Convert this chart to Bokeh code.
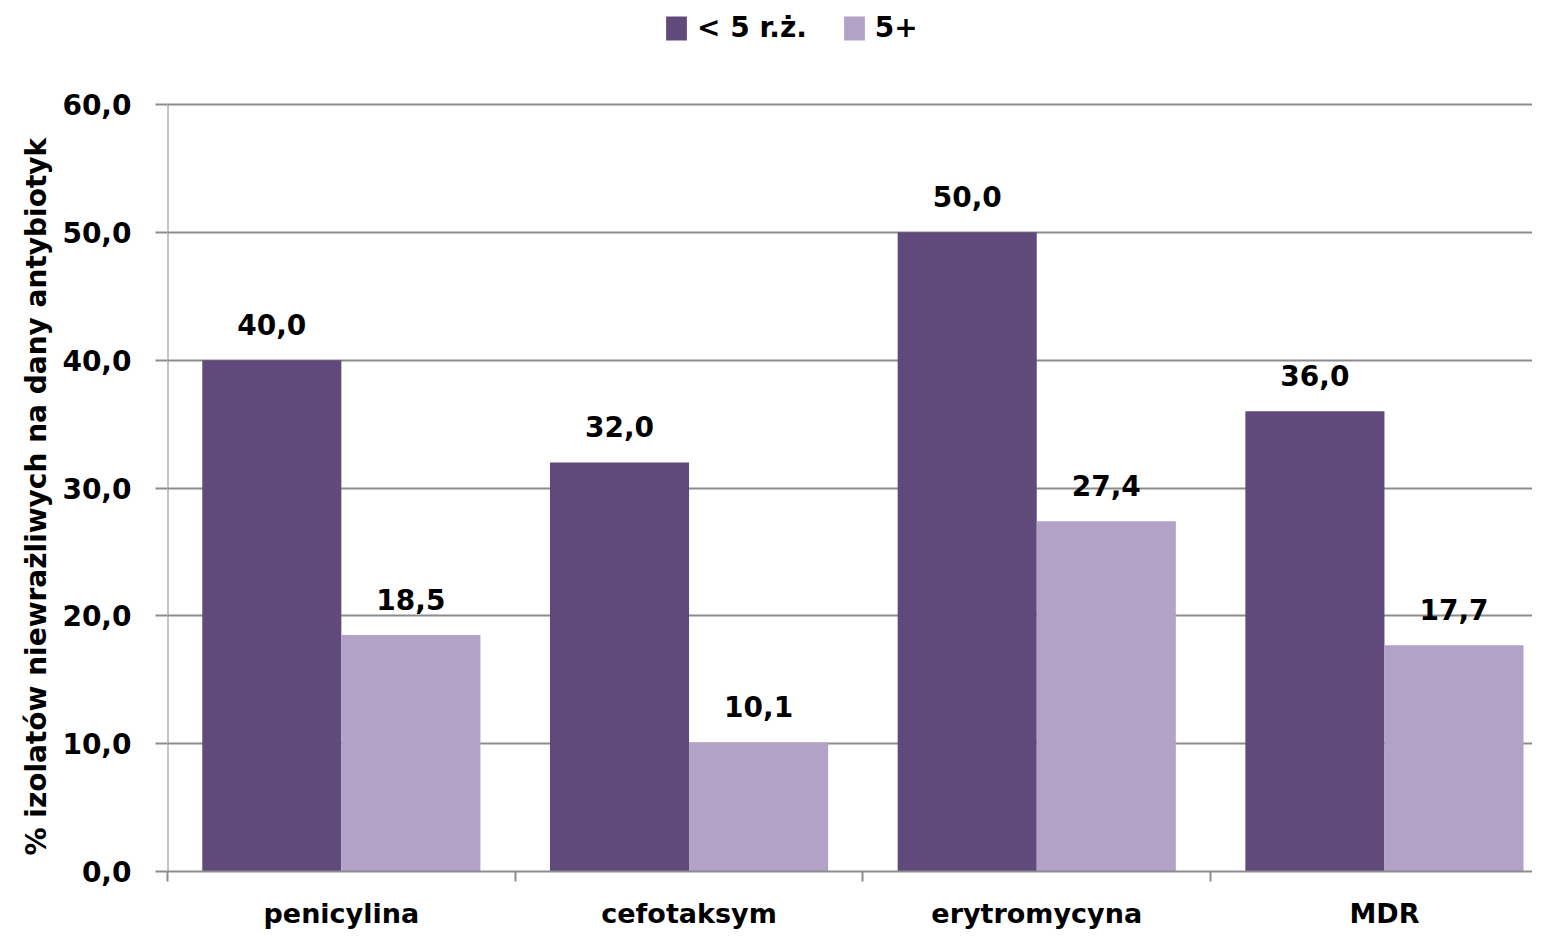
from bokeh.plotting import figure
from bokeh.models import ColumnDataSource, Range1d, FixedTicker, Legend, LegendItem, Title
from bokeh.core.properties import value
from bokeh.embed import file_html
from bokeh.resources import INLINE

categories = ["penicylina", "cefotaksym", "erytromycyna", "MDR"]
under5 = [40.0, 32.0, 50.0, 36.0]
over5 = [18.5, 10.1, 27.4, 17.7]
series_names = ["< 5 r.ż.", "5+"]
y_ticks = [0, 10, 20, 30, 40, 50, 60]
y_title = "% izolatów niewrażliwych na dany antybiotyk"

DARK = "#604A7B"
LIGHT = "#B2A2C7"
GRAY = "#8C8C8C"
FONT = "DejaVu Sans"
FS = "28px"

W, H = 1532, 932
LEFT, BOTTOM = 167, 61
TOP_OF_AXIS = 104          # pixel row of the top tick (60,0)
CAT_W = 347.7              # pixels per category

def fmt(v):
    return f"{v:.1f}".replace(".", ",")

frame_h = H - BOTTOM
y_max = y_ticks[-1] * frame_h / (frame_h - TOP_OF_AXIS)

idx = list(range(len(categories)))
src_a = ColumnDataSource(dict(x=[i + 0.3 for i in idx], top=under5, lab=[fmt(v) for v in under5]))
src_b = ColumnDataSource(dict(x=[i + 0.7 for i in idx], top=over5, lab=[fmt(v) for v in over5]))

p = figure(width=W, height=H, output_backend="svg", toolbar_location=None,
           x_range=Range1d(0, (W - LEFT) / CAT_W), y_range=Range1d(0, y_max),
           min_border_left=LEFT, min_border_right=0, min_border_top=0, min_border_bottom=BOTTOM)
p.outline_line_color = None
p.background_fill_color = "white"
p.border_fill_color = "white"

p.xgrid.grid_line_color = None
p.ygrid.ticker = FixedTicker(ticks=y_ticks)
p.ygrid.grid_line_color = GRAY
p.ygrid.grid_line_width = 2

# y axis line only from 0 to the top tick
p.segment(x0=[0], y0=[y_ticks[0]], x1=[0], y1=[y_ticks[-1]], line_color=GRAY, line_width=2)

ra = p.vbar(x="x", top="top", width=0.4, source=src_a, fill_color=DARK, line_color=None)
rb = p.vbar(x="x", top="top", width=0.4, source=src_b, fill_color=LIGHT, line_color=None)

for s in (src_a, src_b):
    p.text(x="x", y="top", text="lab", source=s, text_align="center", text_baseline="alphabetic",
           y_offset=-36, text_font=value(FONT), text_font_style="bold", text_font_size=FS,
           text_color="black")

# y axis
p.yaxis.ticker = FixedTicker(ticks=y_ticks)
p.yaxis.major_label_overrides = {t: fmt(t) for t in y_ticks}
p.yaxis.major_label_text_font = FONT
p.yaxis.major_label_text_font_style = "bold"
p.yaxis.major_label_text_font_size = FS
p.yaxis.major_label_text_color = "black"
p.yaxis.major_label_standoff = 24
p.yaxis.major_tick_out = 12
p.yaxis.major_tick_in = 0
p.yaxis.minor_tick_line_color = None
p.yaxis.axis_line_color = None
p.yaxis.major_tick_line_color = GRAY
p.yaxis.major_tick_line_width = 2

p.add_layout(Title(text=y_title, align="left", offset=16, text_font=FONT, text_font_style="bold",
                   text_font_size=FS, text_color="black", standoff=14), "left")

# x axis: labels at category centers, ticks at category boundaries
p.xaxis.ticker = FixedTicker(ticks=[i + 0.5 for i in idx], minor_ticks=[i for i in range(len(categories) + 1)])
p.xaxis.major_label_overrides = {i + 0.5: c for i, c in zip(idx, categories)}
p.xaxis.major_label_text_font = FONT
p.xaxis.major_label_text_font_style = "bold"
p.xaxis.major_label_text_font_size = "27px"
p.xaxis.major_label_text_color = "black"
p.xaxis.major_label_standoff = 16
p.xaxis.major_tick_line_color = None
p.xaxis.major_tick_out = 0
p.xaxis.major_tick_in = 0
p.xaxis.minor_tick_out = 10
p.xaxis.minor_tick_in = 0
p.xaxis.minor_tick_line_color = GRAY
p.xaxis.minor_tick_line_width = 2
p.xaxis.axis_line_color = GRAY
p.xaxis.axis_line_width = 2

legend = Legend(items=[LegendItem(label=series_names[0], renderers=[ra]),
                       LegendItem(label=series_names[1], renderers=[rb])],
                location=(663 - LEFT, frame_h - 44), orientation="horizontal",
                glyph_width=26, glyph_height=30, label_standoff=8, spacing=34,
                padding=0, margin=0, border_line_color=None, background_fill_alpha=0,
                label_text_font=FONT, label_text_font_style="bold", label_text_font_size=FS,
                label_text_color="black", label_height=30)
p.add_layout(legend, "center")

open("out.html", "w").write(file_html(p, INLINE))
